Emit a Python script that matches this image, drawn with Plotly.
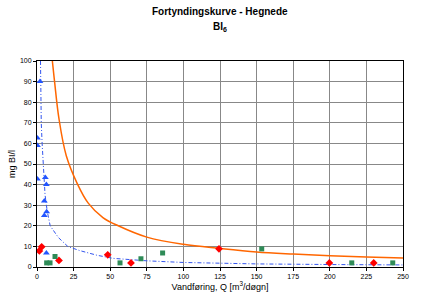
import plotly.graph_objects as go

# Blue triangles
tri_x = [2, 0.3, 0.3, 0.3, 5.7, 6.4, 5, 6.6, 5, 6.4]
tri_y = [90, 62.6, 59, 42.7, 43.5, 40, 32, 26.8, 25, 6.8]
# Red diamonds
red_x = [1.6, 3.2, 15, 48.3, 64.2, 124.3, 199.7, 230]
red_y = [7.8, 9.8, 3.2, 5.9, 2, 8.8, 2, 2]
# Green squares
grn_x = [6.6, 8.9, 12.3, 56.7, 71, 85.8, 153.5, 215, 243]
grn_y = [2, 2, 5.1, 2, 4, 6.8, 8.8, 2, 2]
# Orange trend curve
ora_x = [10.5, 12, 15, 20, 27.5, 35, 45, 55.5, 75, 100, 125, 150, 175, 200, 225, 250]
ora_y = [100, 90, 72, 54, 40.5, 31, 24, 20, 14.5, 11, 9, 7.3, 6.3, 5.5, 4.9, 4.4]
# Blue dash-dot trend curve
blu_x = [2.4, 2.6, 2.9, 3.5, 4.3, 5.5, 7, 9, 14.6, 21, 29, 41, 52, 75, 100, 125, 150, 200, 250]
blu_y = [100, 85, 70, 60, 49, 35, 27, 20, 14.3, 10, 8, 5.7, 4.2, 3, 2.2, 1.7, 1.5, 1.2, 1.0]

x_ticks = [0, 25, 50, 75, 100, 125, 150, 175, 200, 225, 250]
y_ticks = [0, 10, 20, 30, 40, 50, 60, 70, 80, 90, 100]

fig = go.Figure()
fig.add_trace(go.Scatter(x=blu_x, y=blu_y, mode="lines", line=dict(color="#3355ee", width=1, dash="4px,2px,1px,2px"), hoverinfo="skip"))
fig.add_trace(go.Scatter(x=ora_x, y=ora_y, mode="lines", line=dict(color="#ff6600", width=1.5), line_shape="spline", hoverinfo="skip"))
fig.add_trace(go.Scatter(x=tri_x, y=tri_y, mode="markers", marker=dict(symbol="triangle-up", color="#2255ff", size=6)))
fig.add_trace(go.Scatter(x=red_x, y=red_y, mode="markers", marker=dict(symbol="diamond", color="#ff0000", size=6)))
fig.add_trace(go.Scatter(x=grn_x, y=grn_y, mode="markers", marker=dict(symbol="square", color="#2e8b57", size=5)))

fig.update_layout(
    width=433, height=301,
    margin=dict(l=37, r=30, t=61, b=31),
    paper_bgcolor="white", plot_bgcolor="white",
    showlegend=False,
    font=dict(family="Liberation Sans, Arial, sans-serif", color="black"),
)
fig.add_annotation(text="<b>Fortyndingskurve - Hegnede</b>", xref="paper", yref="paper",
                   x=(220 - 37) / 366, y=1 + (61 - 11) / 209, showarrow=False, font=dict(size=10), yanchor="middle")
fig.add_annotation(text="<b>BI<sub>6</sub></b>", xref="paper", yref="paper",
                   x=(220 - 37) / 366, y=1 + (61 - 27) / 209, showarrow=False, font=dict(size=10), yanchor="middle")

fig.update_xaxes(range=[0, 250], tickvals=x_ticks, showgrid=True, gridcolor="#888888", gridwidth=1,
                 showline=True, linecolor="black", linewidth=1, mirror=True, zeroline=False,
                 ticks="outside", ticklen=3, tickcolor="black", tickfont=dict(size=7),
                 title=dict(text="Vandføring, Q [m<sup>3</sup>/døgn]", font=dict(size=9), standoff=2))
fig.update_yaxes(range=[0, 100], tickvals=y_ticks, showgrid=True, gridcolor="#888888", gridwidth=1,
                 showline=True, linecolor="black", linewidth=1, mirror=True, zeroline=False,
                 ticks="outside", ticklen=3, tickcolor="black", tickfont=dict(size=7),
                 title=dict(text="mg BI/l", font=dict(size=9), standoff=2))

fig.write_html("out.html")
